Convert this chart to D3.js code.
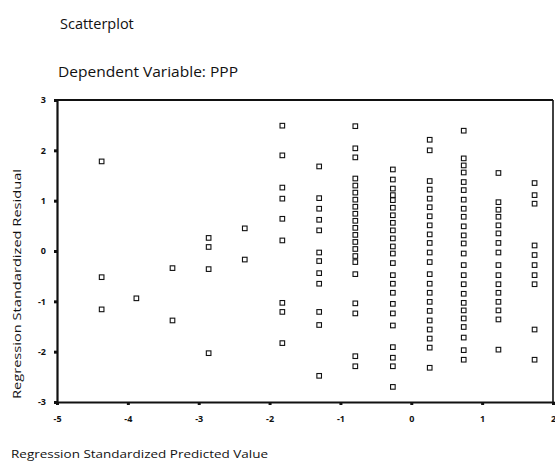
<!DOCTYPE html>
<html>
<head>
<meta charset="utf-8">
<script src="https://cdn.jsdelivr.net/npm/d3@7"></script>
<style>
  html, body { margin: 0; padding: 0; background: #fff; }
  svg { display: block; }
  text { font-family: "Open Sans", "DejaVu Sans", sans-serif; fill: #111; }
</style>
</head>
<body>
<div id="chart"></div>
<script>
// ---- Data ----
const chartTitle = "Scatterplot";
const chartSubtitle = "Dependent Variable: PPP";
const xAxisTitle = "Regression Standardized Predicted Value";
const yAxisTitle = "Regression Standardized Residual";
const xTickValues = [-5, -4, -3, -2, -1, 0, 1, 2];
const yTickValues = [-3, -2, -1, 0, 1, 2, 3];

// predicted value of each vertical column of points
const predicted = [-4.37, -3.88, -3.37, -2.86, -2.35, -1.82, -1.30, -0.79, -0.26, 0.26, 0.74, 1.23, 1.74];
// residuals of the points in each column
const residuals = [
  [1.78, -0.52, -1.16],
  [-0.94],
  [-0.34, -1.38],
  [0.26, 0.08, -0.36, -2.03],
  [0.45, -0.17],
  [2.49, 1.90, 1.26, 1.04, 0.64, 0.21, -1.03, -1.21, -1.83],
  [1.68, 1.05, 0.84, 0.62, 0.41, -0.03, -0.20, -0.44, -0.65, -1.21, -1.47, -2.48],
  [2.48, 2.04, 1.86, 1.44, 1.30, 1.16, 1.02, 0.88, 0.74, 0.60, 0.46, 0.32, 0.18, 0.04, -0.10, -0.22, -0.46, -1.04, -1.24, -2.09, -2.29],
  [1.62, 1.42, 1.24, 1.11, 1.01, 0.86, 0.71, 0.56, 0.41, 0.25, 0.09, -0.05, -0.24, -0.48, -0.65, -0.83, -1.05, -1.24, -1.48, -1.91, -2.12, -2.29, -2.70],
  [2.21, 2.00, 1.39, 1.22, 1.04, 0.87, 0.69, 0.51, 0.33, 0.16, -0.03, -0.22, -0.46, -0.65, -0.83, -1.01, -1.19, -1.38, -1.56, -1.74, -1.92, -2.32],
  [2.39, 1.84, 1.70, 1.56, 1.37, 1.21, 1.02, 0.84, 0.68, 0.49, 0.31, 0.15, -0.05, -0.28, -0.48, -0.66, -0.85, -1.03, -1.18, -1.34, -1.51, -1.72, -1.97, -2.16],
  [1.55, 0.97, 0.82, 0.68, 0.51, 0.35, 0.16, -0.03, -0.28, -0.48, -0.66, -0.83, -1.01, -1.18, -1.36, -1.96],
  [1.35, 1.11, 0.94, 0.11, -0.08, -0.28, -0.48, -0.66, -1.56, -2.16]
];

// ---- Drawing ----
const W = 555, H = 465;
const svg = d3.select("#chart").append("svg").attr("width", W).attr("height", H);

const x = d3.scaleLinear().domain([-5, 2]).range([57, 553]);
const y = d3.scaleLinear().domain([-3, 3]).range([402, 100]);

// titles
svg.append("text").attr("x", 60).attr("y", 29).attr("font-size", 14.5).text(chartTitle);
svg.append("text").attr("x", 58).attr("y", 77).attr("font-size", 14.5)
  .attr("textLength", 180).attr("lengthAdjust", "spacingAndGlyphs").text(chartSubtitle);

// frame (top and right)
svg.append("line").attr("x1", x(-5)).attr("x2", x(2)).attr("y1", y(3)).attr("y2", y(3))
  .attr("stroke", "#111").attr("stroke-width", 2);
svg.append("line").attr("x1", x(2)).attr("x2", x(2)).attr("y1", y(3)).attr("y2", y(-3))
  .attr("stroke", "#111").attr("stroke-width", 1.6);

// axes
const fmt = d => d < 0 ? "-" + Math.abs(d) : String(d);
const xAxis = svg.append("g").attr("transform", `translate(0,${y(-3)})`)
  .call(d3.axisBottom(x).tickValues(xTickValues).tickSize(3).tickPadding(11).tickFormat(fmt));
const yAxis = svg.append("g").attr("transform", `translate(${x(-5)},0)`)
  .call(d3.axisLeft(y).tickValues(yTickValues).tickSize(3).tickPadding(8).tickFormat(fmt));

[xAxis, yAxis].forEach(g => {
  g.select(".domain").attr("stroke", "#111").attr("stroke-width", 2.2);
  g.selectAll(".tick line").attr("stroke", "#111").attr("stroke-width", 3);
  g.selectAll(".tick text").attr("font-size", 9).attr("font-weight", "bold").attr("fill", "#222")
    .style("font-family", "'Open Sans', sans-serif");
});

// axis titles
svg.append("text").attr("x", 11).attr("y", 458).attr("font-size", 11.5)
  .attr("textLength", 257).attr("lengthAdjust", "spacingAndGlyphs").text(xAxisTitle);
svg.append("text").attr("transform", "translate(21,399) rotate(-90)").attr("font-size", 11.5)
  .attr("textLength", 230).attr("lengthAdjust", "spacingAndGlyphs").text(yAxisTitle);

// points
const pts = [];
predicted.forEach((p, i) => residuals[i].forEach(r => pts.push({p, r})));
const s = 4.6;
svg.append("g").selectAll("rect").data(pts).join("rect")
  .attr("x", d => x(d.p) - s / 2)
  .attr("y", d => y(d.r) - s / 2)
  .attr("width", s).attr("height", s)
  .attr("fill", "none").attr("stroke", "#111").attr("stroke-width", 1.1);
</script>
</body>
</html>
